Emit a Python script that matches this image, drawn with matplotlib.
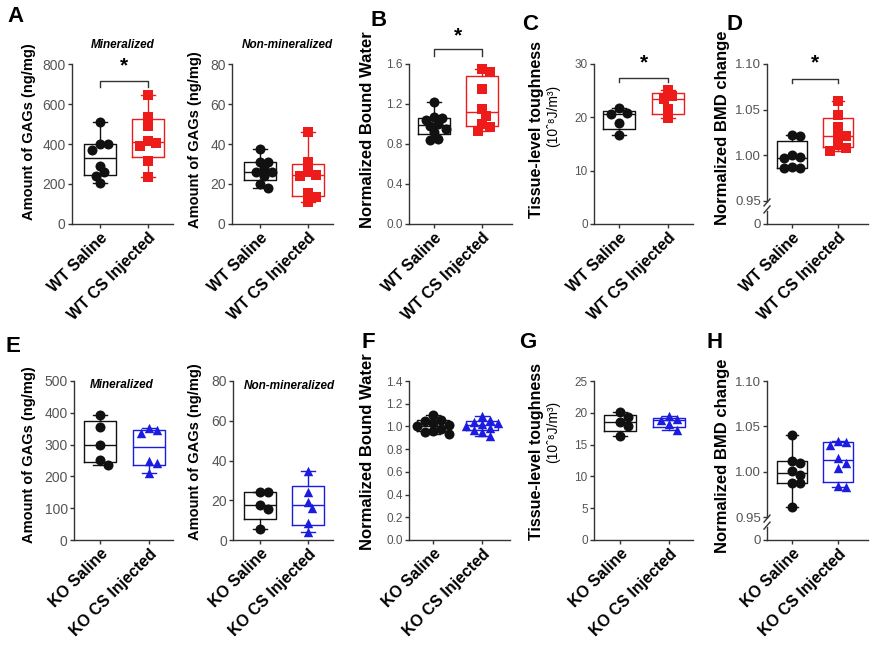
import matplotlib

matplotlib.use("Agg")

import matplotlib.pyplot as plt
import numpy as np

plt.rcParams["font.family"] = ["Liberation Sans", "DejaVu Sans"]

W, H = 873, 655
BLACK = "#111111"
RED = "#ee1b1b"
BLUE = "#1c1ce0"
AXIS = "#333333"
TICK = "#555555"

# ---- data ----
wt_labels = ["WT Saline", "WT CS Injected"]
ko_labels = ["KO Saline", "KO CS Injected"]

a_min_wt = [508, 400, 400, 372, 292, 262, 238, 205]
a_min_cs = [647, 533, 492, 417, 405, 392, 317, 235]
a_non_wt = [37.5, 31, 31, 28, 26, 26, 24, 20, 18]
a_non_cs = [46, 31, 26, 24.5, 24, 15.5, 13.5, 11]
b_wt = [1.22, 1.07, 1.06, 1.04, 1.00, 0.98, 0.95, 0.92, 0.85, 0.84]
b_cs = [1.55, 1.52, 1.35, 1.15, 1.08, 1.00, 0.97, 0.93]
c_wt = [21.7, 20.8, 20.6, 19.0, 16.6]
c_cs = [25.2, 24.0, 23.4, 21.5, 19.8]
d_wt = [1.022, 1.021, 1.000, 0.998, 0.997, 0.987, 0.986, 0.986]
d_cs = [1.060, 1.044, 1.031, 1.022, 1.021, 1.011, 1.008, 1.005]

e_min_ko = [393, 356, 298, 253, 235]
e_min_cs = [352, 345, 335, 250, 243, 212]
e_non_ko = [24.4, 23.9, 17.6, 15.6, 5.5]
e_non_cs = [34.8, 24.4, 19.3, 16.0, 8.4, 4.0]
f_ko = [1.10, 1.06, 1.05, 1.03, 1.01, 1.00, 0.98, 0.96, 0.95, 0.93]
f_cs = [1.09, 1.06, 1.04, 1.03, 1.02, 1.00, 0.99, 0.97, 0.95, 0.92]
g_ko = [20.1, 19.3, 18.6, 18.0, 16.3]
g_cs = [19.5, 19.0, 18.8, 18.2, 17.3]
h_ko = [1.040, 1.012, 1.010, 1.001, 0.996, 0.988, 0.988, 0.961]
h_cs = [1.034, 1.033, 1.030, 1.015, 1.010, 1.004, 0.984, 0.983]


def fig_box(left, right, top, bottom):
    return [left / W, 1 - bottom / H, (right - left) / W, (bottom - top) / H]


def box_stats(vals):
    q1, med, q3 = np.percentile(vals, [25, 50, 75], method="weibull")
    return dict(med=med, q1=q1, q3=q3, whislo=min(vals), whishi=max(vals), fliers=[])


def swarm(vals, px_y, px_x, size=8.0):
    vals = np.asarray(vals, float)
    ys = vals * px_y
    steps = [0.0]
    for k in range(1, 8):
        steps += [k * 0.5, -k * 0.5]
    placed, offs = [], np.zeros(len(vals))
    for i in np.argsort(-vals):
        for s in steps:
            x = s * size
            if all(np.hypot(x - px, ys[i] - py) >= size * 0.9 for px, py in placed):
                break
        placed.append((x, ys[i]))
        offs[i] = x / px_x
    return offs


def style(ax, tick_size, bottom=True):
    for side in ["top", "right"]:
        ax.spines[side].set_visible(False)
    for side in ["left", "bottom"]:
        ax.spines[side].set_linewidth(1.0)
        ax.spines[side].set_color(AXIS)
    if not bottom:
        ax.spines["bottom"].set_visible(False)
    ax.tick_params(direction="out", length=3, width=1, color=AXIS,
                   labelsize=tick_size, labelcolor=TICK, pad=1.5)


def set_xlabels(ax, labels):
    ax.set_xticks([0, 1])
    ax.set_xticklabels(labels, rotation=45, ha="right", va="top",
                       rotation_mode="anchor", fontweight="bold",
                       color="black", fontsize=11.5)


def draw_groups(ax, groups, colors, markers, px_y, px_x):
    for pos, (vals, col, mk) in enumerate(zip(groups, colors, markers)):
        ax.bxp([box_stats(vals)], positions=[pos], widths=0.66, showfliers=False,
               capwidths=0.28, manage_ticks=False,
               boxprops=dict(color=col, lw=1.0),
               whiskerprops=dict(color=col, lw=1.0),
               capprops=dict(color=col, lw=1.0),
               medianprops=dict(color=col, lw=1.0))
        offs = swarm(vals, px_y, px_x)
        ax.scatter(pos + offs, vals, marker=mk, s=52 if mk == "o" else 46, color=col,
                   zorder=3, linewidths=0, clip_on=False)


def bracket(ax, y, drop, star_y):
    ax.plot([0, 0, 1, 1], [y - drop, y, y, y - drop], color=AXIS, lw=1.0, clip_on=False)
    ax.text(0.5, star_y, "*", ha="center", va="center", fontsize=15,
            fontweight="bold", color="black")


def panel(spec, groups, colors, markers, ylim, yticks, fmt, xlabels,
          tick_size=10, broken=False, sig=None):
    left, right, top, bottom, g0, g1 = spec
    u = g1 - g0
    xlim = ((left - g0) / u, (right - g0) / u)
    if broken:
        gap_top = top + (bottom - top) * 0.856
        ax = fig.add_axes(fig_box(left, right, top, gap_top))
        stub = fig.add_axes(fig_box(left, right, gap_top + 10, bottom))
        style(ax, tick_size, bottom=False)
        style(stub, tick_size)
        stub.set_xlim(*xlim)
        stub.set_ylim(0, 1)
        stub.set_yticks([0])
        stub.set_yticklabels(["0"])
        set_xlabels(stub, xlabels)
        ax.set_xticks([])
        stub.patch.set_alpha(0)
        # break marks on the y axis
        x0 = left / W
        for yp in (gap_top + 2, gap_top + 9):
            fig.add_artist(plt.Line2D([x0 - 3 / W, x0 + 3 / W],
                                      [1 - (yp + 3) / H, 1 - (yp - 4) / H],
                                      color=AXIS, lw=1.0))
        px_h = gap_top - top
    else:
        ax = fig.add_axes(fig_box(left, right, top, bottom))
        style(ax, tick_size)
        px_h = bottom - top
    ax.set_xlim(*xlim)
    ax.set_ylim(*ylim)
    ax.patch.set_alpha(0)
    px_y = px_h / (ylim[1] - ylim[0])
    draw_groups(ax, groups, colors, markers, px_y, u)
    ax.set_yticks(yticks)
    ax.set_yticklabels([fmt.format(t) for t in yticks])
    if not broken:
        set_xlabels(ax, xlabels)
    if sig:
        bracket(ax, *sig)
    return ax


def ylabel(x, y, text, size, bold=True):
    fig.text(x / W, 1 - y / H, text, rotation=90, ha="center", va="center",
             fontsize=size, fontweight="bold" if bold else "normal")


def letter(x, y, s):
    fig.text(x / W, 1 - y / H, s, ha="center", va="center", fontsize=16, fontweight="bold")


fig = plt.figure(figsize=(8.73, 6.55), dpi=100)

TOP, BOT = 64, 224
TOP2, BOT2 = 381, 540
wt_col, wt_mk = [BLACK, RED], ["o", "s"]
ko_col, ko_mk = [BLACK, BLUE], ["o", "^"]

# ---- top row ----
a1 = panel((72, 173, TOP, BOT, 100, 148), [a_min_wt, a_min_cs], wt_col, wt_mk,
           (0, 800), [0, 200, 400, 600, 800], "{:.0f}", wt_labels,
           tick_size=10, sig=(717, 32, 790))
a2 = panel((232, 333, TOP, BOT, 260, 308), [a_non_wt, a_non_cs], wt_col, wt_mk,
           (0, 80), [0, 20, 40, 60, 80], "{:.0f}", wt_labels, tick_size=10)
b = panel((409, 512, TOP, BOT, 434, 482), [b_wt, b_cs], wt_col, wt_mk,
          (0, 1.6), [0, 0.4, 0.8, 1.2, 1.6], "{:.1f}", wt_labels,
          tick_size=8.5, sig=(1.75, 0.07, 1.88))
c = panel((594, 693, TOP, BOT, 619, 668), [c_wt, c_cs], wt_col, wt_mk,
          (0, 30), [0, 10, 20, 30], "{:.0f}", wt_labels,
          tick_size=8.5, sig=(27.4, 0.8, 30.3))
d = panel((767, 868, TOP, BOT, 792, 838), [d_wt, d_cs], wt_col, wt_mk,
          (0.95, 1.10), [0.95, 1.00, 1.05, 1.10], "{:.2f}", wt_labels,
          tick_size=9.5, broken=True, sig=(1.0835, 0.0045, 1.101))

a1.text(0.5, 1.12, "Mineralized", transform=a1.transAxes, ha="center", va="center",
        fontsize=8.5, fontweight="bold", fontstyle="italic")
a2.text(0.55, 1.12, "Non-mineralized", transform=a2.transAxes, ha="center", va="center",
        fontsize=8.5, fontweight="bold", fontstyle="italic")

# ---- bottom row ----
e1 = panel((74, 173, TOP2, BOT2, 100, 149), [e_min_ko, e_min_cs], ko_col, ko_mk,
           (0, 500), [0, 100, 200, 300, 400, 500], "{:.0f}", ko_labels, tick_size=10)
e2 = panel((233, 333, TOP2, BOT2, 260, 308), [e_non_ko, e_non_cs], ko_col, ko_mk,
           (0, 80), [0, 20, 40, 60, 80], "{:.0f}", ko_labels, tick_size=10)
f = panel((409, 510, TOP2, BOT2, 433, 482), [f_ko, f_cs], ko_col, ko_mk,
          (0, 1.4), [0, 0.2, 0.4, 0.6, 0.8, 1.0, 1.2, 1.4], "{:.1f}", ko_labels,
          tick_size=8.5)
g = panel((594, 693, TOP2, BOT2, 620, 669), [g_ko, g_cs], ko_col, ko_mk,
          (0, 25), [0, 5, 10, 15, 20, 25], "{:.0f}", ko_labels, tick_size=8.5)
h = panel((767, 868, TOP2, BOT2, 792, 838), [h_ko, h_cs], ko_col, ko_mk,
          (0.95, 1.10), [0.95, 1.00, 1.05, 1.10], "{:.2f}", ko_labels,
          tick_size=9.5, broken=True)

e1.text(0.48, 0.975, "Mineralized", transform=e1.transAxes, ha="center", va="center",
        fontsize=8.5, fontweight="bold", fontstyle="italic")
e2.text(0.56, 0.97, "Non-mineralized", transform=e2.transAxes, ha="center", va="center",
        fontsize=8.5, fontweight="bold", fontstyle="italic")

# ---- axis titles ----
ylabel(29, 132, "Amount of GAGs (ng/mg)", 10.5)
ylabel(195, 140, "Amount of GAGs (ng/mg)", 10.5)
ylabel(367, 130, "Normalized Bound Water", 12)
ylabel(537, 129, "Tissue-level toughness", 11.5)
ylabel(553, 116, "(10ˆ⁸J/m³)", 10, bold=False)
ylabel(723, 128, "Normalized BMD change", 12)
ylabel(29, 455, "Amount of GAGs (ng/mg)", 10.5)
ylabel(195, 452, "Amount of GAGs (ng/mg)", 10.5)
ylabel(367, 452, "Normalized Bound Water", 12)
ylabel(537, 452, "Tissue-level toughness", 11.5)
ylabel(553, 432, "(10ˆ⁸J/m³)", 10, bold=False)
ylabel(723, 456, "Normalized BMD change", 12)

for x, y, s in [(16, 17, "A"), (379, 20, "B"), (530, 25, "C"), (735, 25, "D"),
                (13, 347, "E"), (368, 343, "F"), (528, 343, "G"), (715, 343, "H")]:
    letter(x, y, s)

fig.savefig("out.png", dpi=100)
